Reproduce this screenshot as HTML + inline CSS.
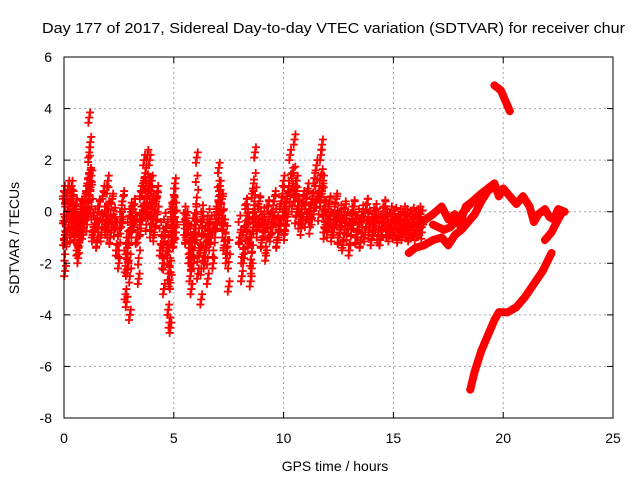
<!DOCTYPE html>
<html><head><meta charset="utf-8"><style>
body{margin:0;background:#fff}
svg{display:block;font-family:"Liberation Sans",sans-serif}
</style></head><body>
<svg id="c" width="640" height="480">
<text x="42" y="33" font-size="15" textLength="583" lengthAdjust="spacingAndGlyphs">Day 177 of 2017, Sidereal Day-to-day VTEC variation (SDTVAR) for receiver chur</text>
<text x="335" y="471" font-size="14" text-anchor="middle">GPS time / hours</text>
<text transform="translate(19,238) rotate(-90)" font-size="14" text-anchor="middle">SDTVAR / TECUs</text>
<g id="grid"></g>
<g id="marks"></g>
<rect x="64" y="57" width="549" height="361" fill="none" stroke="#000"/>
<g id="ticks"></g>
</svg>
<script>
const xTicks=[0,5,10,15,20,25];
const yTicks=[-8,-6,-4,-2,0,2,4,6];
const cloudHours=[0,0,0.05,0.1,0.1,0.2,0.25,0.3,0.35,0.4,0.45,0.5,0.55,0.6,0.65,0.7,0.75,0.8,0.85,0.9,0.95,1.0,1.05,1.1,1.15,1.2,1.15,1.25,1.3,1.4,1.5,1.6,1.7,1.8,1.9,2.0,2.0,2.1,2.2,2.3,2.4,2.5,2.6,2.7,2.8,2.85,2.9,2.95,3.0,3.05,3.1,3.2,3.3,3.4,3.5,3.5,3.6,3.65,3.7,3.75,3.8,3.85,3.9,3.95,4.0,4.05,4.1,4.2,4.25,4.4,4.5,4.55,4.6,4.7,4.75,4.8,4.85,4.9,4.95,5.0,5.05,5.1,5.0,5.5,5.55,5.6,5.7,5.75,5.8,5.85,5.9,6.0,6.05,6.1,6.2,6.25,6.3,6.4,6.5,6.55,6.6,6.7,6.8,6.9,7.0,7.05,7.1,7.2,7.25,7.3,7.4,7.5,8.0,8.1,8.2,8.3,8.35,8.4,8.5,8.55,8.6,8.65,8.7,8.8,8.9,9.0,9.1,9.2,9.3,9.4,9.5,9.6,9.7,9.8,9.9,10.0,10.05,10.1,10.2,10.3,10.4,10.5,10.55,10.6,10.7,10.8,10.9,11.0,11.1,11.2,11.3,11.4,11.5,11.6,11.7,11.75,11.8,11.85,11.9,12.0,12.1,12.2,12.3,12.4,12.5,12.6,12.7,12.8,12.9,13.0,13.1,13.2,13.3,13.4,13.5,13.6,13.7,13.8,13.9,14.0,14.1,14.2,14.3,14.4,14.5,14.6,14.7,14.8,14.9,15.0,15.1,15.2,15.3,15.4,15.5,15.6,15.7,15.8,15.9,16.0,16.1,16.2,16.3];
const cloudTecu=[-1.1,0.8,-2.3,0.5,-1.0,1.0,0.2,-0.8,1.0,0.6,-0.2,-0.9,0.3,-1.5,-1.8,-1.2,-0.5,0.2,-0.6,-0.3,0.5,0.8,0.0,1.3,2.3,2.7,3.65,1.4,-0.8,-0.5,-1.2,0.2,-0.8,0.8,-0.3,1.2,-0.5,-1.0,0.5,-0.4,-1.5,-2.0,-0.2,0.6,-3.2,-3.5,-2.2,-1.0,-4.0,0.0,-0.5,0.3,-1.0,-2.6,-0.3,0.8,1.0,2.0,1.5,0.0,2.2,1.0,2.0,-0.5,1.2,0.5,-0.8,0.4,0.8,-1.5,-2.0,-3.0,-0.8,-1.5,-3.8,-4.3,-4.5,0.0,-0.8,0.4,1.1,-0.6,-1.2,-0.3,-1.0,-0.7,-1.8,-2.5,-3.0,-1.2,-2.0,-0.3,2.1,-2.4,-1.5,-3.4,-0.2,-2.0,-1.3,-2.6,-0.5,-1.0,-2.0,-0.5,0.2,1.7,1.0,0.5,-0.5,-1.3,-1.8,-2.9,-1.0,-2.5,-1.8,0.3,-0.5,-1.2,-2.7,-2.2,0.9,-0.2,2.3,-0.5,0.4,-1.2,-0.4,-1.7,0.2,-0.8,-0.2,0.6,-1.2,-0.5,0.4,1.2,-0.7,0.0,0.8,2.2,1.5,2.8,0.6,1.2,0.2,-0.3,0.6,0.3,0.9,-0.2,0.5,1.3,1.8,0.8,2.2,2.6,1.2,-0.6,0.2,-0.5,0.4,-0.8,-0.3,0.5,-1.0,-0.2,-1.3,0.1,-0.7,-1.5,-0.3,0.2,-1.0,-0.5,-1.2,-0.2,-0.8,0.3,-0.6,-1.1,-0.4,-0.1,-0.9,-1.1,-0.4,0.2,-0.5,-0.8,-0.3,-0.6,-0.4,-0.9,-0.5,-0.7,-0.3,-0.5,-0.8,-0.6,-0.4,-0.7,-0.5,-0.3,-0.6];
const traceA_h=[16.3,16.8,17.2,17.5,17.8,18.0,18.3,18.6,19.0,19.3,19.6,19.8,20.0,20.3,20.6,20.9,21.2,21.4,21.6,21.9,22.1,22.3,22.5,22.8];
const traceA_v=[-0.4,-0.1,0.2,-0.3,-0.1,-0.5,0.2,0.4,0.7,0.9,1.1,0.6,0.9,0.6,0.3,0.6,0.2,-0.4,-0.1,0.1,-0.2,-0.3,0.1,0.0];
const traceB_h=[15.7,16.0,16.4,16.8,17.2,17.5,17.8,18.1,18.4,18.7,19.0,19.3,19.6];
const traceB_v=[-1.6,-1.4,-1.3,-1.1,-1.0,-1.3,-0.9,-0.7,-0.4,-0.1,0.4,0.8,1.0];
const traceC_h=[16.8,17.3,17.6,17.9,18.2,18.5,18.8];
const traceC_v=[-0.5,-0.7,-0.6,-0.3,0.0,0.3,0.5];
const traceD_h=[19.6,19.9,20.1,20.3];
const traceD_v=[4.9,4.7,4.3,3.9];
const traceE_h=[18.5,18.7,19.0,19.3,19.6,19.8,20.2,20.6,21.0,21.4,21.8,22.2];
const traceE_v=[-6.9,-6.2,-5.4,-4.8,-4.2,-3.9,-3.9,-3.7,-3.3,-2.8,-2.3,-1.6];
const traceF_h=[21.9,22.2,22.5,22.7];
const traceF_v=[-1.1,-0.8,-0.3,0.0];

const NS='http://www.w3.org/2000/svg';
const X0=64,X1=613,Y0=418,Y1=57;
const sx=h=>X0+(h-0)/(25-0)*(X1-X0);
const sy=v=>Y0-(v+8)/(6+8)*(Y0-Y1);
function mk(tag,attrs,parent){const e=document.createElementNS(NS,tag);for(const k in attrs)e.setAttribute(k,attrs[k]);parent.appendChild(e);return e;}
const grid=document.getElementById('grid'),ticks=document.getElementById('ticks'),marks=document.getElementById('marks');
xTicks.forEach(t=>{
  const x=sx(t);
  if(t>0&&t<25){const l=mk('line',{x1:x,x2:x,y1:Y1,y2:Y0,stroke:'#a0a0a0','stroke-dasharray':'2,3'},grid);
  
  }
  mk('line',{x1:x,x2:x,y1:Y0,y2:Y0-6,stroke:'#000'},ticks);
  mk('line',{x1:x,x2:x,y1:Y1,y2:Y1+6,stroke:'#000'},ticks);
  const tx=mk('text',{x:x,y:443,'font-size':14,'text-anchor':'middle'},ticks);
  tx.textContent=t;
  
  
});
yTicks.forEach(t=>{
  const y=sy(t);
  if(t>-8&&t<6){const l=mk('line',{x1:X0,x2:X1,y1:y,y2:y,stroke:'#a0a0a0','stroke-dasharray':'2,3'},grid);
  
  }
  mk('line',{x1:X0,x2:X0+6,y1:y,y2:y,stroke:'#000'},ticks);
  mk('line',{x1:X1,x2:X1-6,y1:y,y2:y,stroke:'#000'},ticks);
  const tx=mk('text',{x:52,y:y+5,'font-size':14,'text-anchor':'end'},ticks);
  tx.textContent=t;
  
  
});
function plus(h,v){
  const x=sx(h),y=sy(v);
  const p=mk('path',{d:`M${x-4},${y}h8M${x},${y-4}v8`,stroke:'#f00','stroke-width':1.8},marks);
  
  
}
for(let i=0;i<cloudHours.length;i++){
  const h=cloudHours[i],v=cloudTecu[i];
  plus(h,v);plus(h+0.04,v+0.2);plus(h-0.04,v-0.2);
  const mid=(v+(-0.4))/2;
  plus(h+0.06,mid);plus(h-0.05,mid+0.3);plus(h,mid-0.3);plus(h+0.03,mid+0.55);plus(h-0.03,mid-0.55);
}
[[traceA_h,traceA_v],[traceB_h,traceB_v],[traceC_h,traceC_v],[traceD_h,traceD_v],[traceE_h,traceE_v],[traceF_h,traceF_v]].forEach(([hs,vs])=>{
  const pl=mk('polyline',{points:hs.map((h,i)=>sx(h)+','+sy(vs[i])).join(' '),fill:'none',stroke:'#f00','stroke-width':8,'stroke-linejoin':'round','stroke-linecap':'round'},marks);
  
  
  hs.forEach((h,i)=>plus(h,vs[i]));
});
</script>
</body></html>
